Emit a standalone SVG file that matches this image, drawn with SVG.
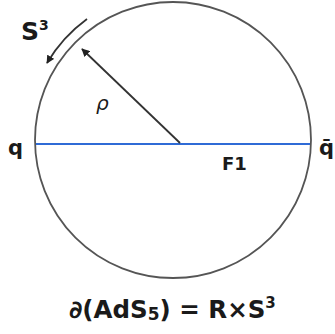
<svg xmlns="http://www.w3.org/2000/svg" width="335" height="334" viewBox="0 0 335 334">
<style>
.t{font-family:"DejaVu Sans","Liberation Sans",sans-serif;fill:#1a1a1a;font-weight:bold}
.rho{font-family:"DejaVu Sans","Liberation Sans",sans-serif;fill:#1a1a1a;font-weight:normal;font-style:italic}
.dk{stroke:#333;stroke-width:1.8;fill:none}
</style>
<defs>
<marker id="ah" viewBox="0 0 10 10" refX="9" refY="5" markerWidth="4.5" markerHeight="4.5" orient="auto" markerUnits="strokeWidth">
<path d="M0,0 L10,5 L0,10 z" fill="#222"/>
</marker>
</defs>
<rect width="335" height="334" fill="#fff"/>
<g id="circle">
<circle cx="173" cy="140" r="138" fill="none" stroke="#555" stroke-width="1.8"/>
</g>
<g id="connectors">
<line x1="36" y1="144" x2="310" y2="144" stroke="#2f6bd6" stroke-width="2"/>
<line x1="180" y1="143" x2="82" y2="49" class="dk" marker-end="url(#ah)"/>
<path d="M87,19 A148,148 0 0 0 47,63" class="dk" marker-end="url(#ah)"/>
</g>
<g id="labels">
<text class="t" x="21" y="40" font-size="25">S<tspan font-size="14" dy="-10">3</tspan></text>
<text class="rho" x="96" y="110" font-size="20">ρ</text>
<text class="t" x="8" y="155" font-size="21">q</text>
<text class="t" x="319" y="155" font-size="21">q̄</text>
<text class="t" x="222" y="170" font-size="18">F1</text>
<text class="t" x="69" y="318" font-size="24.5">∂(AdS<tspan font-size="17" dy="2">5</tspan><tspan dy="-2">) = R×S</tspan><tspan font-size="15" dy="-10">3</tspan></text>
</g>
</svg>
